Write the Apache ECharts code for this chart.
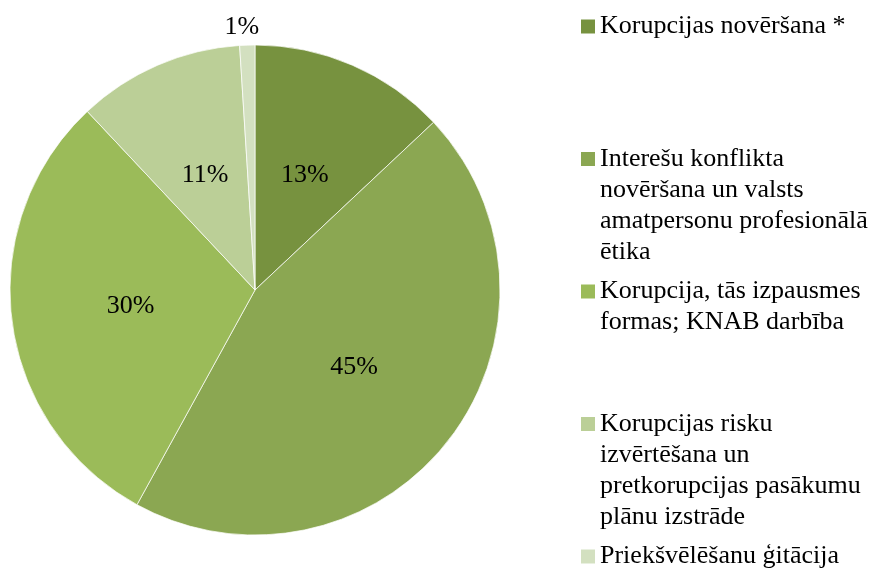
<!DOCTYPE html>
<html>
<head>
<meta charset="utf-8">
<script src="https://cdn.jsdelivr.net/npm/echarts@6/dist/echarts.min.js"></script>
<style>
  html, body { margin: 0; padding: 0; background: #fff; }
  #chart { width: 878px; height: 568px; }
</style>
</head>
<body>
<div id="chart"></div>
<script>
// Legend text, line breaks as in the original
const categories = [
  "Korupcijas novēršana *",
  "Interešu konflikta\nnovēršana un valsts\namatpersonu profesionālā\nētika",
  "Korupcija, tās izpausmes\nformas; KNAB darbība",
  "Korupcijas risku\nizvērtēšana un\npretkorupcijas pasākumu\nplānu izstrāde",
  "Priekšvēlēšanu ģitācija"
];
const shares = [13, 45, 30, 11, 1];
const colors = ["#77923f", "#8ba752", "#9bbb59", "#bbcf97", "#d3e0c0"];

const chart = echarts.init(document.getElementById("chart"));

// one rich style per legend marker colour
const rich = {
  t: { fontFamily: "Liberation Serif", fontSize: 26, lineHeight: 31, color: "#000" },
  s: { width: 19, lineHeight: 31 },
  g: { width: 5, lineHeight: 31 }
};
colors.forEach((c, i) => {
  rich["m" + i] = { width: 14, height: 14, backgroundColor: c };
});

const option = {
  animation: false,
  color: colors,
  legend: {
    orient: "vertical",
    left: 576,
    top: 11,
    height: 700,
    itemWidth: 0,
    itemHeight: 124,
    itemGap: 11,
    icon: "none",
    selectedMode: false,
    padding: 0,
    textStyle: { fontFamily: "Liberation Serif", fontSize: 26, color: "#000", rich: rich },
    formatter: function (name) {
      const i = categories.indexOf(name);
      const lines = name.split("\n");
      while (lines.length < 4) lines.push(" ");
      return lines.map((l, k) => (k === 0 ? "{m" + i + "| }{g| }" : "{s| }") + "{t|" + l + "}").join("\n");
    },
    data: categories
  },
  series: [
    {
      type: "pie",
      center: [255, 290],
      radius: 245,
      startAngle: 90,
      itemStyle: { borderColor: "#fff", borderWidth: 0.7 },
      label: {
        position: "inside",
        formatter: "{c}%",
        fontFamily: "Liberation Serif",
        fontSize: 26,
        color: "#000"
      },
      labelLine: { show: false },
      labelLayout: function (params) {
        if (params.dataIndex === shares.length - 1) {
          return { align: "center" };
        }
      },
      emphasis: { disabled: true },
      data: categories.map((name, i) => {
        const item = { name: name, value: shares[i] };
        if (i === categories.length - 1) {
          item.label = { position: "outside" };
          item.labelLine = { show: false, length: 18, length2: 0 };
        }
        return item;
      })
    }
  ]
};

chart.setOption(option);
</script>
</body>
</html>
